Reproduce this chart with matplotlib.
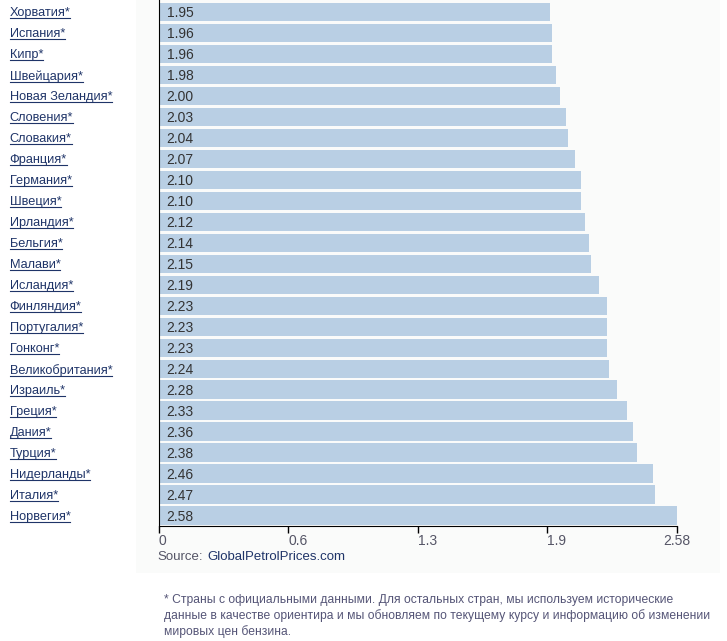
import matplotlib.pyplot as plt
from matplotlib.patches import Rectangle

countries = ['Хорватия*', 'Испания*', 'Кипр*', 'Швейцария*', 'Новая Зеландия*',
             'Словения*', 'Словакия*', 'Франция*', 'Германия*', 'Швеция*',
             'Ирландия*', 'Бельгия*', 'Малави*', 'Исландия*', 'Финляндия*',
             'Португалия*', 'Гонконг*', 'Великобритания*', 'Израиль*', 'Греция*',
             'Дания*', 'Турция*', 'Нидерланды*', 'Италия*', 'Норвегия*']
prices = [1.95, 1.96, 1.96, 1.98, 2.00, 2.03, 2.04, 2.07, 2.10, 2.10,
          2.12, 2.14, 2.15, 2.19, 2.23, 2.23, 2.23, 2.24, 2.28, 2.33,
          2.36, 2.38, 2.46, 2.47, 2.58]
x_max = 2.58
x_ticks = [0, x_max / 4, x_max / 2, x_max * 3 / 4, x_max]
x_tick_labels = ['0', '0.6', '1.3', '1.9', '2.58']
footnote = ('* Страны с официальными данными. Для остальных стран, мы используем исторические\n'
            'данные в качестве ориентира и мы обновляем по текущему курсу и информацию об изменении\n'
            'мировых цен бензина.')

plt.rcParams['font.family'] = ['Liberation Sans', 'DejaVu Sans']

W, H = 727, 641
fig = plt.figure(figsize=(W / 100, H / 100), dpi=100)

# light panel behind the chart
fig.patches.append(Rectangle((136 / W, (H - 573) / H), (720 - 136) / W, 573 / H,
                             transform=fig.transFigure, facecolor='#fafbfa',
                             edgecolor='none', zorder=-5))

ax = fig.add_axes([158.5 / W, (H - 526) / H, (677 - 158.5) / W, 526 / H])
ax.set_zorder(2)
ax.patch.set_alpha(0)

y = list(range(len(countries)))
ax.barh(y, prices, height=0.87, color='#b9cfe4', edgecolor='none', zorder=2)
for yi, v in zip(y, prices):
    ax.text(0.04, yi, f'{v:.2f}', va='center_baseline', ha='left', fontsize=10,
            color='#333333', zorder=3)

ax.set_xlim(0, x_max)
ax.set_ylim(24.5, -0.57)
ax.set_yticks([])
ax.set_xticks(x_ticks)
ax.set_xticklabels(x_tick_labels)
ax.tick_params(axis='x', length=5, width=1, color='black', labelsize=10,
               labelcolor='#555566', pad=1)
for lbl in ax.get_xticklabels()[:-1]:
    lbl.set_ha('left')
ax.spines['top'].set_visible(False)
ax.spines['right'].set_visible(False)
ax.spines['left'].set_color('black')
ax.spines['bottom'].set_color('black')

# country labels with underline
label_texts = []
for yi, name in zip(y, countries):
    t = ax.text(-149 / 518.5 * x_max, yi, name, va='center_baseline', ha='left',
                fontsize=9.2, color='#1f3468', clip_on=False)
    label_texts.append(t)

fig.text(157 / W, 1 - 557 / H, 'Source:', fontsize=9.5, color='#555566', va='center')
fig.text(207 / W, 1 - 557 / H, 'GlobalPetrolPrices.com', fontsize=9.5, color='#1f3468', va='center')
fig.text(164 / W, 1 - 616 / H, footnote, fontsize=8.7, color='#555577', va='center',
         linespacing=1.35)

fig.canvas.draw()
renderer = fig.canvas.get_renderer()
for t in label_texts:
    bb = t.get_window_extent(renderer)
    yline = bb.y0 + 1
    fig.add_artist(plt.Line2D([bb.x0 / W, bb.x1 / W], [yline / H, yline / H],
                              transform=fig.transFigure, color='#1f3468', linewidth=0.8))

fig.savefig('out.png', dpi=100)
